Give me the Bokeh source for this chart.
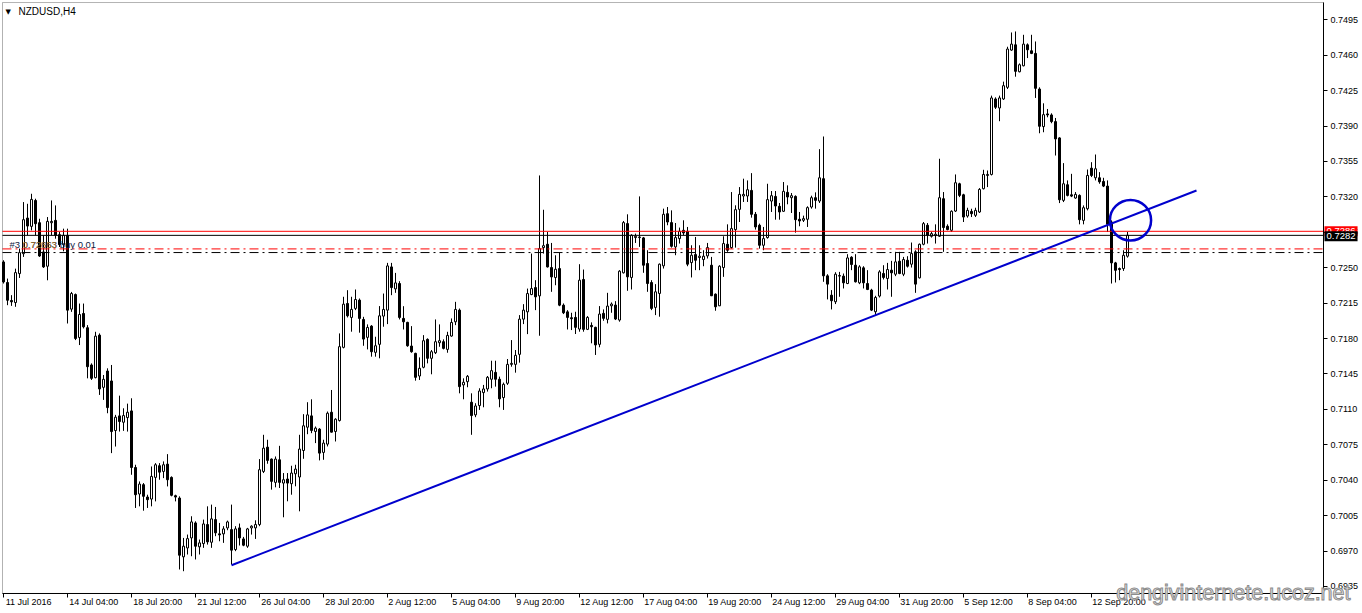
from bokeh.plotting import figure
from bokeh.models import (Range1d, FixedTicker, Label, ColumnDataSource,
                          PrintfTickFormatter, LinearAxis, BoxAnnotation)
from bokeh.embed import file_html
from bokeh.resources import INLINE

symbol = "NZDUSD,H4"

open_ = [
    .72557, .72354, .72176, .72156, .72442, .72639, .72991, .72909, .73165, .72945,
    .72656, .72515, .72945, .72968, .72827, .72728, .72820, .72091, .72235, .71811,
    .72048, .71907, .71539, .71414, .71834, .71318, .71479, .71381, .70891, .71036,
    .70973, .71019, .71085, .70526, .70264, .70356, .70234, .70214, .70428, .70543,
    .70487, .70559, .70428, .70247, .70224, .69643, .69731, .69830, .69978, .69742,
    .69774, .69962, .69787, .70011, .69870, .69870, .69929, .69912, .69715, .69929,
    .69820, .69748, .69929, .69929, .69962, .70487, .70727, .70609, .70379, .70602,
    .70372, .70412, .70366, .70464, .70432, .70694, .70924, .71036, .70882, .70905,
    .70675, .70757, .71072, .70882, .70990, .71713, .72147, .72009, .72098, .72180,
    .71989, .71812, .71923, .71664, .71743, .72022, .72081, .72508, .72291, .72344,
    .71999, .71960, .71726, .71654, .71430, .71516, .71792, .71605, .71660, .71759,
    .71769, .71693, .71825, .71966, .72081, .71342, .71374, .71171, .71046, .71138,
    .71266, .71302, .71398, .71466, .71398, .71217, .71358, .71545, .71545, .71644,
    .71992, .72064, .72235, .72304, .72222, .72699, .72732, .72502, .72403, .72492,
    .72130, .72064, .72006, .72009, .71894, .72384, .71891, .71930, .71911, .71743,
    .72049, .71990, .72124, .72131, .71983, .72450, .72936, .72404, .72798, .72798,
    .72795, .72542, .72354, .72108, .72246, .72519, .73034, .72946, .72706, .72788,
    .72870, .72860, .72551, .72630, .72601, .72581, .72617, .72525, .72239, .72124,
    .72502, .72732, .72699, .72877, .73077, .73209, .73209, .73264, .73028, .72920,
    .72722, .72798, .73159, .73205, .73107, .73058, .73245, .73192, .73205, .72979,
    .72969, .72979, .73100, .73192, .73159, .73380, .72420, .72229, .72164, .72417,
    .72417, .72344, .72604, .72525, .72351, .72499, .72344, .72279, .72065, .72220,
    .72443, .72394, .72476, .72436, .72565, .72436, .72574, .72535, .72657, .72400,
    .72732, .72920, .72811, .72818, .72811, .73182, .72910, .72870, .73060, .73330,
    .73221, .73011, .73057, .73018, .73051, .73281, .73412, .73422, .74168, .74079,
    .74168, .74283, .74651, .74703, .74437, .74496, .74703, .74644, .74618, .74266,
    .73895, .74020, .74010, .73944, .73783, .73166, .73320, .73221, .73189, .73215,
    .72968, .73083, .73484, .73389, .73389, .73353, .73307, .72952, .72548, .72492,
    .72492, .72614,
]

high = [
    .72574, .72393, .72229, .72491, .72689, .73149, .73132, .73231, .73182, .72984,
    .72820, .73001, .73165, .73116, .72853, .72886, .72886, .72261, .72245, .72146,
    .72146, .71933, .71555, .71867, .71851, .71440, .71506, .71539, .71046, .71236,
    .71111, .71157, .71210, .70553, .70388, .70372, .70257, .70536, .70569, .70569,
    .70586, .70658, .70438, .70257, .70241, .69830, .69863, .70044, .69994, .69814,
    .70011, .70142, .70159, .70136, .69978, .69946, .70001, .70159, .69946, .69972,
    .69840, .69929, .69955, .70004, .70609, .70849, .70800, .70615, .70635, .70740,
    .70471, .70471, .70543, .70553, .70849, .71053, .71171, .71200, .70931, .70915,
    .70800, .71079, .71292, .71013, .71851, .72213, .72278, .72213, .72285, .72196,
    .72015, .71940, .71933, .71818, .72121, .72245, .72548, .72548, .72449, .72367,
    .72120, .71966, .71923, .71660, .71614, .71834, .71802, .71687, .71989, .71940,
    .71792, .71867, .71999, .72163, .72097, .71407, .71440, .71259, .71161, .71309,
    .71342, .71430, .71581, .71581, .71424, .71365, .71598, .71785, .71687, .72032,
    .72140, .72294, .72640, .72377, .73412, .73073, .72853, .72745, .72623, .72649,
    .72147, .72081, .72055, .72065, .72535, .72482, .72022, .71960, .71917, .72121,
    .72088, .72252, .72157, .72170, .72476, .72962, .73028, .72831, .72837, .73205,
    .72804, .72673, .72377, .72338, .72542, .73084, .73100, .73067, .72942, .72897,
    .72969, .72903, .72722, .72804, .72722, .72673, .72745, .72607, .72246, .72525,
    .72811, .72929, .73248, .73117, .73297, .73380, .73363, .73435, .73051, .72936,
    .72903, .73330, .73258, .73258, .73140, .73347, .73314, .73238, .73215, .73051,
    .73015, .73107, .73212, .73245, .73672, .73797, .72436, .72279, .72456, .72459,
    .72443, .72634, .72614, .72634, .72525, .72515, .72476, .72292, .72223, .72476,
    .72525, .72548, .72568, .72657, .72657, .72607, .72614, .72749, .72673, .72739,
    .72952, .72942, .72854, .72929, .73577, .73248, .72929, .73067, .73422, .73340,
    .73231, .73093, .73083, .73093, .73287, .73468, .73461, .74201, .74184, .74201,
    .74339, .74684, .74825, .74835, .74519, .74802, .74717, .74802, .74736, .74283,
    .74125, .74069, .74026, .73980, .73790, .73534, .73363, .73428, .73248, .73225,
    .73116, .73471, .73543, .73619, .73445, .73389, .73363, .72968, .72558, .72502,
    .72673, .72853,
]

low = [
    .72344, .72130, .72123, .72114, .72399, .72607, .72820, .72869, .72820, .72607,
    .72498, .72376, .72820, .72787, .72705, .72662, .71949, .72064, .71785, .71736,
    .71900, .71407, .71391, .71407, .71243, .71194, .71062, .70668, .70733, .70881,
    .70888, .70881, .70454, .70126, .70142, .70099, .70126, .70142, .70191, .70405,
    .70421, .70339, .70241, .70191, .69518, .69501, .69666, .69649, .69617, .69666,
    .69732, .69764, .69732, .69847, .69797, .69781, .69906, .69567, .69699, .69755,
    .69748, .69732, .69863, .69820, .69946, .70471, .70563, .70307, .70330, .70323,
    .70034, .70192, .70257, .70340, .70093, .70612, .70855, .70865, .70767, .70596,
    .70602, .70734, .70872, .70783, .70980, .71703, .72009, .71868, .72081, .71858,
    .71729, .71693, .71621, .71621, .71605, .71917, .71943, .72229, .72252, .71989,
    .71890, .71719, .71660, .71384, .71391, .71506, .71555, .71447, .71647, .71719,
    .71693, .71660, .71818, .71933, .71259, .71200, .71319, .70849, .71023, .71095,
    .71121, .71276, .71309, .71325, .71121, .71095, .71342, .71522, .71463, .71562,
    .71943, .71844, .72229, .72081, .71828, .72640, .72502, .72262, .72327, .72120,
    .72042, .71890, .71884, .71845, .71868, .71868, .71884, .71753, .71638, .71714,
    .71976, .71950, .72055, .71983, .71967, .72443, .72272, .72285, .72745, .72706,
    .72450, .72262, .72081, .72032, .72016, .72492, .72920, .72699, .72624, .72739,
    .72821, .72515, .72404, .72476, .72476, .72515, .72591, .72220, .72075, .72121,
    .72410, .72657, .72689, .72699, .72952, .73150, .73150, .72995, .72877, .72689,
    .72673, .72788, .73051, .72975, .72975, .73051, .73127, .73041, .72847, .72910,
    .72952, .72903, .73084, .73084, .73140, .72361, .72187, .72088, .72141, .72213,
    .72295, .72338, .72476, .72354, .72338, .72295, .72279, .72072, .72032, .72206,
    .72384, .72285, .72213, .72417, .72436, .72417, .72502, .72502, .72252, .72394,
    .72722, .72739, .72798, .72739, .72804, .72657, .72870, .72854, .73051, .73198,
    .72952, .72995, .73001, .73001, .73041, .73274, .73297, .73412, .74069, .73948,
    .74158, .74266, .74644, .74388, .74431, .74490, .74572, .74611, .74178, .73829,
    .73839, .73987, .73928, .73609, .73139, .73149, .73205, .73198, .73182, .72929,
    .72929, .73067, .73396, .73363, .73330, .73297, .72853, .72344, .72354, .72377,
    .72469, .72600,
]

close = [
    .72360, .72179, .72163, .72452, .72649, .72975, .72912, .73175, .72935, .72616,
    .72508, .72958, .72958, .72820, .72728, .72820, .72081, .72245, .71801, .72038,
    .71916, .71522, .71407, .71824, .71302, .71397, .71118, .70881, .71023, .70980,
    .71039, .71072, .70526, .70257, .70362, .70241, .70208, .70438, .70553, .70480,
    .70553, .70405, .70251, .70234, .69659, .69748, .69823, .69988, .69748, .69781,
    .69968, .69791, .70018, .69880, .69860, .69919, .69988, .69709, .69919, .69830,
    .69758, .69919, .69946, .69962, .70504, .70717, .70596, .70389, .70609, .70379,
    .70405, .70372, .70471, .70510, .70708, .70938, .71046, .70892, .70915, .70668,
    .70767, .71062, .70875, .71003, .71720, .72140, .72025, .72088, .72186, .71999,
    .71795, .71910, .71670, .71729, .72025, .72088, .72518, .72304, .72350, .72009,
    .71966, .71729, .71670, .71417, .71506, .71779, .71605, .71670, .71769, .71779,
    .71703, .71831, .71959, .72088, .71325, .71368, .71427, .71039, .71134, .71282,
    .71302, .71417, .71483, .71398, .71204, .71348, .71545, .71555, .71634, .71992,
    .72081, .72245, .72294, .72212, .72689, .72718, .72508, .72409, .72485, .72130,
    .72055, .72009, .71996, .71911, .72377, .71891, .72009, .71917, .71737, .72042,
    .72000, .72121, .72141, .71993, .72466, .72946, .72410, .72821, .72811, .72804,
    .72525, .72344, .72098, .72262, .72535, .73028, .72952, .72712, .72798, .72860,
    .72844, .72535, .72624, .72574, .72614, .72614, .72699, .72223, .72114, .72515,
    .72739, .72673, .72887, .73074, .73225, .73225, .73271, .73028, .72903, .72722,
    .72788, .73173, .73212, .73110, .73051, .73255, .73199, .73212, .72975, .72962,
    .72985, .73094, .73192, .73166, .73389, .72420, .72338, .72174, .72436, .72423,
    .72351, .72597, .72532, .72361, .72509, .72351, .72285, .72081, .72206, .72459,
    .72404, .72482, .72450, .72558, .72443, .72581, .72515, .72640, .72338, .72732,
    .72936, .72821, .72837, .72831, .73192, .72897, .72877, .73058, .73340, .73215,
    .73001, .73067, .73034, .73067, .73274, .73422, .73422, .74178, .74086, .74178,
    .74299, .74661, .74710, .74441, .74506, .74710, .74654, .74618, .74273, .73898,
    .74013, .74010, .73944, .73773, .73172, .73330, .73215, .73208, .73225, .72975,
    .73093, .73412, .73412, .73478, .73349, .73307, .72929, .72548, .72475, .72482,
    .72623, .72821,
]

time_tick_bars = [0, 16, 32, 48, 64, 80, 96, 112, 128, 144, 160, 176, 192, 208,
                  224, 240, 256, 272]
time_tick_labels = ["11 Jul 2016", "14 Jul 04:00", "18 Jul 20:00", "21 Jul 12:00",
                    "26 Jul 04:00", "28 Jul 20:00", "2 Aug 12:00", "5 Aug 04:00",
                    "9 Aug 20:00", "12 Aug 12:00", "17 Aug 04:00", "19 Aug 20:00",
                    "24 Aug 12:00", "29 Aug 04:00", "31 Aug 20:00", "5 Sep 12:00",
                    "8 Sep 04:00", "12 Sep 20:00"]
price_ticks = [0.6935, 0.6970, 0.7005, 0.7040, 0.7075, 0.7110, 0.7145, 0.7180,
               0.7215, 0.7250, 0.7285, 0.7320, 0.7355, 0.7390, 0.7425, 0.7460, 0.7495]

bid_price = 0.7282
ask_price = 0.7286
order_price = 0.72650
order_price_red = 0.72686
order_text = "#3 0.72663 buy 0.01"
order_text_2 = "0.72863"
trend_bars = [57, 298.25]
trend_prices = [0.69560, 0.73263]
circle_bar = [281.75]
circle_price = [0.72970]
watermark = "dengivinternete.ucoz.net"

# chart frame (in bars / price) and full canvas extents
X_LO, X_HI = -0.25, 330.0
Y_LO, Y_HI = 0.69281, 0.75121
CANVAS_X = (-0.75, 339.75)
CANVAS_Y = (0.69083, 0.75141)
PX_PER_BAR = 4.0

FONT = "Liberation Sans"
AXIS_PX = 9


def text_width(s, size):
    em = 0.0
    for ch in s:
        if ch.isdigit():
            em += 0.556
        elif ch in " :.,":
            em += 0.278
        elif ch.isupper():
            em += 0.667
        elif ch in "ijlt":
            em += 0.26
        else:
            em += 0.53
    return em * size


bars = list(range(len(close)))
is_up = [c >= o for o, c in zip(open_, close)]
src_up = ColumnDataSource(dict(
    x=[b for b, u in zip(bars, is_up) if u],
    top=[c for c, u in zip(close, is_up) if u],
    bottom=[o for o, u in zip(open_, is_up) if u]))
src_dn = ColumnDataSource(dict(
    x=[b for b, u in zip(bars, is_up) if not u],
    top=[o for o, u in zip(open_, is_up) if not u],
    bottom=[c for c, u in zip(close, is_up) if not u]))
src_wick = ColumnDataSource(dict(x=bars, lo=low, hi=high))

p = figure(width=1362, height=613, x_range=Range1d(*CANVAS_X),
           y_range=Range1d(*CANVAS_Y), output_backend="svg",
           toolbar_location=None, x_axis_location=None, y_axis_location=None,
           min_border_left=0, min_border_top=0, min_border_right=0,
           min_border_bottom=0, background_fill_color="white",
           border_fill_color="white")
p.grid.visible = False
p.outline_line_color = None

# frame box (left and top borders)
p.add_layout(BoxAnnotation(left=X_LO, right=X_HI, bottom=Y_LO, top=Y_HI,
                           fill_alpha=0, line_color="black", line_width=1))

# time axis: labels start at their tick, so label centres are shifted right
label_centres = [b + (text_width(t, AXIS_PX) / 2 + 1.0) / PX_PER_BAR
                 for b, t in zip(time_tick_bars, time_tick_labels)]
xa = LinearAxis(fixed_location=Y_LO, bounds=(X_LO, X_HI))
xa.ticker = FixedTicker(ticks=label_centres, minor_ticks=time_tick_bars)
xa.major_label_overrides = {c: t for c, t in zip(label_centres, time_tick_labels)}
xa.major_label_text_font = FONT
xa.major_label_text_font_size = f"{AXIS_PX}px"
xa.major_label_text_color = "black"
xa.major_label_standoff = 0
xa.major_tick_out = 0
xa.major_tick_in = 0
xa.minor_tick_out = 4
xa.minor_tick_in = 0
xa.minor_tick_line_color = "black"
xa.axis_line_color = "black"
p.add_layout(xa, "below")

ya = LinearAxis(fixed_location=X_HI, bounds=(Y_LO, Y_HI))
ya.ticker = FixedTicker(ticks=price_ticks, minor_ticks=[])
ya.formatter = PrintfTickFormatter(format="%.4f")
ya.major_label_text_font = FONT
ya.major_label_text_font_size = f"{AXIS_PX}px"
ya.major_label_text_color = "black"
ya.major_label_standoff = 3
ya.major_tick_out = 4
ya.major_tick_in = 0
ya.minor_tick_out = 0
ya.minor_tick_in = 0
ya.axis_line_color = "black"
p.add_layout(ya, "right")

# candles
p.segment(x0="x", y0="lo", x1="x", y1="hi", source=src_wick, line_color="black", line_width=1)
p.vbar(x="x", width=0.5, top="top", bottom="bottom", source=src_up,
       fill_color="white", line_color="black", line_width=1)
p.vbar(x="x", width=0.5, top="top", bottom="bottom", source=src_dn,
       fill_color="black", line_color="black", line_width=1)

# price lines (ask, bid, order)
p.line([X_LO, X_HI], [ask_price, ask_price], line_color="#ff0000", line_width=1)
p.line([X_LO, X_HI], [bid_price, bid_price], line_color="black", line_width=1)
p.line([X_LO, X_HI], [order_price_red, order_price_red], line_color="#ff0000",
       line_width=1, line_dash="9 4 2 4")
p.line([X_LO, X_HI], [order_price, order_price], line_color="black",
       line_width=1, line_dash="9 4 2 4")

# trend line and circle
p.line(trend_bars, trend_prices, line_color="#0000cd", line_width=2)
p.ellipse(x=circle_bar, y=circle_price, width=10.3, height=0.0040,
          fill_alpha=0, line_color="#0000cd", line_width=2.5)

# order label
p.add_layout(Label(x=1.5, y=0.72725, text=order_text, text_font=FONT,
                   text_font_size="9.5px", text_color="#10203f", text_baseline="middle"))
p.add_layout(Label(x=1.5, y=0.72725, x_offset=13, text=order_text_2, text_font=FONT,
                   text_font_size="9.5px", text_color="#b07a20", text_baseline="middle",
                   text_alpha=0.8))

# title
p.add_layout(Label(x=X_LO, y=Y_HI, x_offset=3, y_offset=-9, text="\u25bc",
                   text_font="DejaVu Sans", text_font_size="7px", text_color="black",
                   text_baseline="middle"))
p.add_layout(Label(x=X_LO, y=Y_HI, x_offset=16, y_offset=-9, text=symbol,
                   text_font=FONT, text_font_size="10px", text_color="black",
                   text_baseline="middle"))

# right price boxes
p.add_layout(Label(x=X_HI, y=ask_price, x_offset=1, text=f"{ask_price:.4f}",
                   text_font=FONT, text_font_size="9.5px", text_color="white",
                   text_baseline="middle", background_fill_color="#ff0000",
                   padding=2))
p.add_layout(Label(x=X_HI, y=bid_price, x_offset=1, y_offset=-1, text=f"{bid_price:.4f}",
                   text_font=FONT, text_font_size="9.5px", text_color="white",
                   text_baseline="middle", background_fill_color="black",
                   padding=2))

# watermark
p.add_layout(Label(x=336.75, y=Y_LO, text=watermark,
                   text_font=FONT, text_font_size="21.5px", text_color="#e8e8e8",
                   text_outline_color="#8c8c8c", text_align="right",
                   text_baseline="middle"))

open("out.html", "w").write(file_html(p, INLINE))
